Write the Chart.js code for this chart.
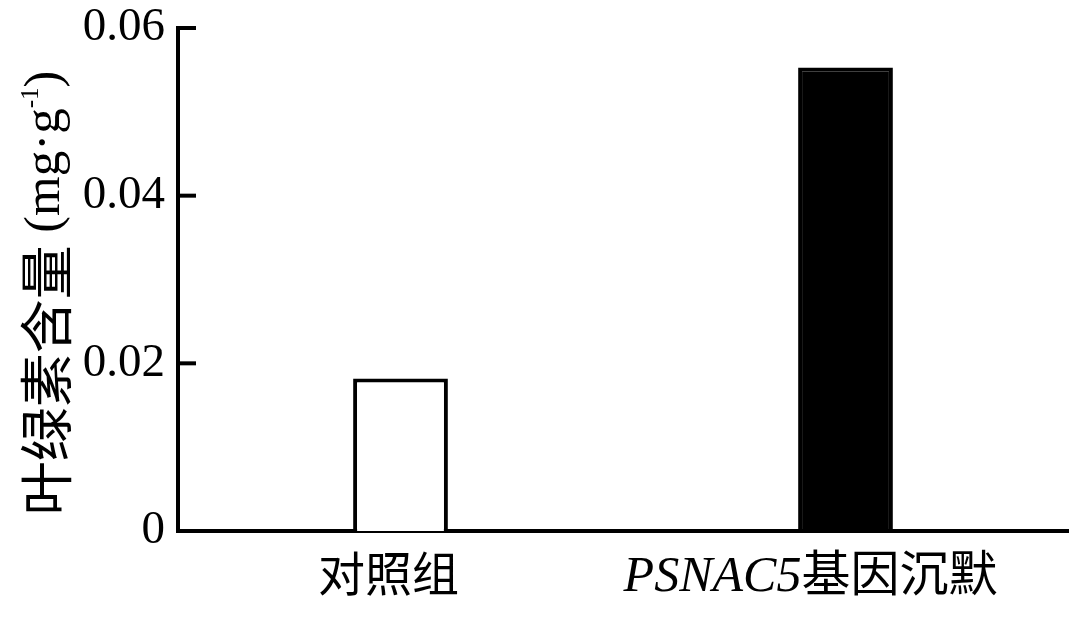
<!DOCTYPE html>
<html>
<head>
<meta charset="utf-8">
<title>叶绿素含量</title>
<script src="https://cdn.jsdelivr.net/npm/chart.js@4.4.1/dist/chart.umd.min.js"></script>
<style>
  body { margin: 0; background: #fff; }
  #bar { display: block; }
</style>
</head>
<body>
<canvas id="bar" width="1080" height="617"></canvas>
<script>
// data
const groupNames = ["对照组", "PSNAC5基因沉默"];
const chlorophyll = [0.0182, 0.0553];
const yTicks = [0, 0.02, 0.04, 0.06];
const barFills = ["#ffffff", "#000000"];

const cjkFont = "'Noto Sans CJK SC', 'Noto Sans', sans-serif";
const serifFont = "'Liberation Serif', 'DejaVu Serif', serif";

// pieces of each category label, the gene name is italic latin
const labelParts = [
  [{ t: "对照组", f: "47px " + cjkFont, y: 0 }],
  [
    { t: "PSNAC5", f: "italic 50px " + serifFont, y: 0 },
    { t: "基因沉默", f: "49px " + cjkFont, y: 0 },
  ],
];
// the labels sit a little left of the bar centres
const labelShift = [-12, -35];

// pieces of the y title, "-1" is a superscript
// y is the baseline offset across the rotated text
const titleParts = [
  { t: "叶绿素含量", f: "54px " + cjkFont, y: 67 },
  { t: " (", f: "50px " + serifFont, y: 59 },
  { t: "mg·g", f: "51px " + serifFont, y: 59 },
  { t: "-1", f: "25px " + serifFont, y: 38 },
  { t: ")", f: "50px " + serifFont, y: 59 },
];

// draw a row of text pieces centred on x
const drawParts = (ctx, parts, x, y) => {
  let total = 0;
  parts.forEach((p) => {
    ctx.font = p.f;
    p.w = ctx.measureText(p.t).width;
    total += p.w;
  });
  let cx = x - total / 2;
  parts.forEach((p) => {
    ctx.font = p.f;
    ctx.fillText(p.t, cx, y + p.y);
    cx += p.w;
  });
};

// inward ticks, category labels and the rotated axis title
const extrasPlugin = {
  id: "extras",
  afterDraw: (chart) => {
    const ctx = chart.ctx;
    const area = chart.chartArea;
    const yScale = chart.scales.y;
    const xScale = chart.scales.x;

    ctx.save();
    ctx.strokeStyle = "#000";
    ctx.lineWidth = 4;
    yTicks.forEach((v) => {
      const py = yScale.getPixelForValue(v);
      ctx.beginPath();
      ctx.moveTo(area.left, py);
      ctx.lineTo(area.left + 18, py);
      ctx.stroke();
    });

    ctx.fillStyle = "#000";
    ctx.textAlign = "left";
    ctx.textBaseline = "alphabetic";
    groupNames.forEach((name, i) => {
      const px = xScale.getPixelForTick(i);
      drawParts(ctx, labelParts[i], px + labelShift[i], area.bottom + 60);
    });

    ctx.translate(0, 293);
    ctx.rotate(-Math.PI / 2);
    drawParts(ctx, titleParts, 0, 0);
    ctx.restore();
  },
};

const ctx = document.getElementById("bar");
new Chart(ctx, {
  type: "bar",
  data: {
    labels: groupNames,
    datasets: [
      {
        data: chlorophyll,
        backgroundColor: barFills,
        borderColor: "#000",
        borderWidth: 4,
        barPercentage: 0.213,
        categoryPercentage: 1,
      },
    ],
  },
  options: {
    responsive: false,
    animation: false,
    devicePixelRatio: 1,
    layout: { padding: { left: 0, top: 28, right: 12, bottom: 0 } },
    plugins: {
      legend: { display: false },
      tooltip: { enabled: false },
    },
    scales: {
      x: {
        grid: { display: false, drawTicks: false },
        border: { display: true, color: "#000", width: 4 },
        ticks: { display: false },
        afterFit: (s) => {
          s.height = 86;
        },
      },
      y: {
        min: 0,
        max: 0.06,
        afterBuildTicks: (s) => {
          s.ticks = yTicks.map((v) => ({ value: v }));
        },
        grid: { display: false, drawTicks: false },
        border: { display: true, color: "#000", width: 4 },
        ticks: {
          color: "#000",
          padding: 13,
          font: { family: serifFont, size: 47 },
          callback: (v) => (v === 0 ? "0" : v.toFixed(2)),
        },
        afterFit: (s) => {
          s.width = 178;
          s.paddingTop = 0;
          s.paddingBottom = 0;
        },
      },
    },
  },
  plugins: [extrasPlugin],
});
</script>
</body>
</html>
